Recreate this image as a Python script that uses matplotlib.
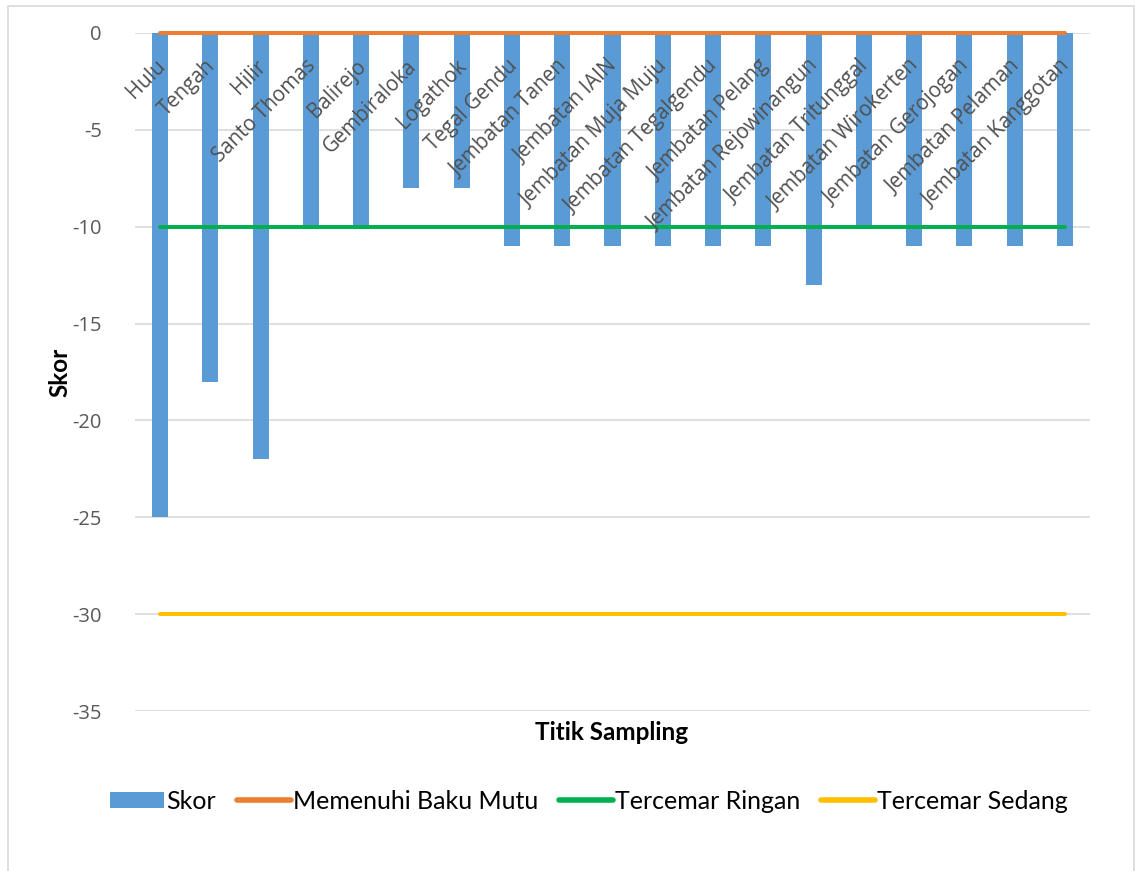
import matplotlib
matplotlib.use("Agg")
import matplotlib.pyplot as plt
from matplotlib.patches import Rectangle

plt.rcParams['font.family'] = ['Lato', 'DejaVu Sans']

categories = ["Hulu", "Tengah", "Hilir", "Santo Thomas", "Balirejo", "Gembiraloka",
              "Logathok", "Tegal Gendu", "Jembatan Tanen", "Jembatan IAIN",
              "Jembatan Muja Muju", "Jembatan Tegalgendu", "Jembatan Pelang",
              "Jembatan Rejowinangun", "Jembatan Tritunggal", "Jembatan Wirokerten",
              "Jembatan Gerojogan", "Jembatan Pelaman", "Jembatan Kanggotan"]
skor = [-25, -18, -22, -10, -10, -8, -8, -11, -11, -11, -11, -11, -11, -13, -10,
        -11, -11, -11, -11]
baku_mutu = 0
ringan = -10
sedang = -30
yticks = [0, -5, -10, -15, -20, -25, -30, -35]

W, H = 1135, 871
fig = plt.figure(figsize=(W / 100, H / 100), dpi=100)
ax = fig.add_axes([135 / W, 1 - 711 / H, (1090 - 135) / W, (711 - 33) / H])

x = list(range(len(categories)))
ax.bar(x, skor, width=0.32, color="#5B9BD5", zorder=2, label="Skor")
ax.plot([x[0], x[-1]], [baku_mutu] * 2, color="#ED7D31", lw=2.9, solid_capstyle="round",
        zorder=3, label="Memenuhi Baku Mutu", clip_on=False)
ax.plot([x[0], x[-1]], [ringan] * 2, color="#00B050", lw=2.9, solid_capstyle="round",
        zorder=3, label="Tercemar Ringan", clip_on=False)
ax.plot([x[0], x[-1]], [sedang] * 2, color="#FFC000", lw=2.9, solid_capstyle="round",
        zorder=3, label="Tercemar Sedang", clip_on=False)

ax.set_xlim(-0.5, len(categories) - 0.5)
ax.set_ylim(-35, 0)
ax.set_yticks(yticks)
ax.set_yticklabels([str(v) for v in yticks], fontsize=14.5, color="#595959",
                   family=['Open Sans', 'DejaVu Sans'])
ax.tick_params(axis="y", length=0, pad=24)
ax.set_xticks([])
ax.grid(axis="y", color="#D9D9D9", lw=1.2, zorder=0)
ax.set_axisbelow(True)
for s in ax.spines.values():
    s.set_visible(False)

# category names hang diagonally from the zero line
for xi, name in zip(x, categories):
    ax.annotate(name, xy=(xi, 0), xytext=(2, -30), textcoords="offset pixels",
                rotation=45, rotation_mode="anchor", ha="right", va="center",
                fontsize=14.8, color="#505050", zorder=4,
                family=['Open Sans', 'DejaVu Sans'])

fig.text(612 / W, 1 - 732 / H, "Titik Sampling", ha="center", va="center",
         fontsize=17.5, fontweight="bold", color="black")
fig.text(60 / W, 1 - 372 / H, "Skor", ha="center", va="center", rotation=90,
         fontsize=17.5, fontweight="bold", color="black")

handles, labels = ax.get_legend_handles_labels()
order = [labels.index(n) for n in ["Skor", "Memenuhi Baku Mutu", "Tercemar Ringan", "Tercemar Sedang"]]
leg = fig.legend([handles[i] for i in order], [labels[i] for i in order],
                 loc="center", bbox_to_anchor=(589 / W, 1 - 801 / H), ncol=4,
                 frameon=False, fontsize=18, handlelength=2.15, handleheight=0.6,
                 handletextpad=0.08, columnspacing=0.85, borderaxespad=0)
for line in leg.get_lines():
    line.set_linewidth(4)
    line.set_solid_capstyle("round")

fig.patches.append(Rectangle((8 / W, -0.01), (1134 - 8) / W, 1.01 - 5.5 / H,
                             transform=fig.transFigure, fill=False,
                             edgecolor="#D9D9D9", lw=1.2))

fig.savefig("out.png", dpi=100)
